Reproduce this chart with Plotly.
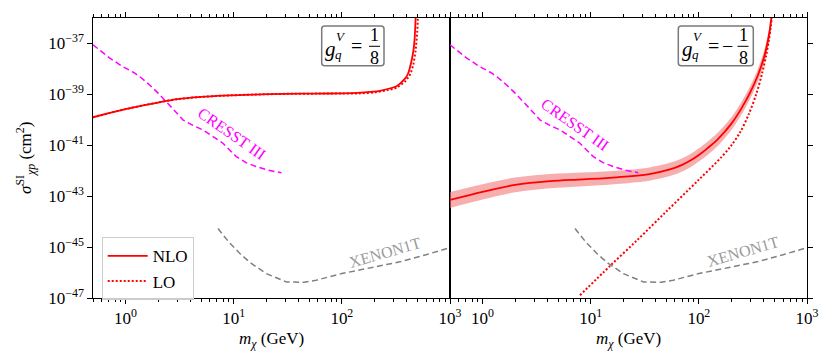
import numpy as np
import plotly.graph_objects as go
from plotly.subplots import make_subplots

# ------------------------------------------------------------
# Data (masses in GeV, cross sections as log10 of cm^2)
# ------------------------------------------------------------
mass_nlo_left = [0.5, 0.7, 1.0, 1.5, 2.0, 3.0, 5.0, 8.0, 15, 30, 60, 100, 150,
                 225, 320, 380, 410, 440, 460, 472, 482]
exp_nlo_left = [-39.90, -39.74, -39.58, -39.42, -39.32, -39.19, -39.10, -39.05,
                -39.01, -38.98, -38.97, -38.96, -38.93, -38.86, -38.68, -38.40,
                -38.18, -37.70, -37.25, -36.75, -35.90]

mass_lo_left = [0.5, 0.7, 1.0, 1.5, 2.0, 3.0, 5.0, 8.0, 15, 30, 60, 100, 150,
                200, 260, 320, 383, 430, 457, 480, 498, 505]
exp_lo_left = [-39.90, -39.74, -39.58, -39.42, -39.32, -39.19, -39.10, -39.05,
               -39.01, -38.98, -38.97, -38.97, -38.96, -38.92, -38.84, -38.74,
               -38.50, -38.20, -37.84, -37.30, -36.53, -35.90]

mass_nlo_right = [0.5, 1.0, 2.0, 4.2, 8.5, 17.4, 35, 54, 70, 85, 100, 120, 150,
                  200, 250, 300, 350, 400, 430, 450, 465, 475]
exp_nlo_right = [-43.15, -42.83, -42.56, -42.41, -42.34, -42.26, -42.13, -41.95,
                 -41.77, -41.58, -41.38, -41.12, -40.76, -40.15, -39.52, -38.90,
                 -38.27, -37.55, -37.00, -36.55, -36.10, -35.80]
band_nlo_right = [0.31, 0.30, 0.29, 0.28, 0.27, 0.26, 0.26, 0.26, 0.26, 0.26,
                  0.26, 0.26, 0.26, 0.25, 0.25, 0.25, 0.25, 0.25, 0.25, 0.25,
                  0.25, 0.25]

mass_lo_right = [7.96, 15, 27, 50, 99, 163, 200, 240, 288, 340, 383, 420, 445,
                 462, 475]
exp_lo_right = [-46.89, -45.75, -44.72, -43.60, -42.37, -41.45, -41.00, -40.50,
                -39.80, -38.98, -38.20, -37.45, -36.85, -36.35, -35.90]

mass_cresst = [0.5, 0.7, 0.94, 1.2, 1.35, 1.5, 1.67, 2.0, 2.38, 2.9, 3.39, 4.2,
               5.2, 6.4, 7.95, 10.6, 13, 16.2, 21, 27.6]
exp_cresst = [-37.05, -37.55, -37.91, -38.15, -38.30, -38.45, -38.63, -38.95,
              -39.28, -39.68, -40.00, -40.22, -40.40, -40.65, -40.92, -41.45,
              -41.68, -41.84, -41.98, -42.08]

mass_xenon = [7.16, 9, 11.4, 14.1, 20, 30.7, 45, 58, 100, 200, 344, 600, 1000]
exp_xenon = [-44.27, -44.80, -45.25, -45.60, -46.04, -46.37, -46.38, -46.30,
             -46.04, -45.78, -45.58, -45.30, -45.02]

x_ticks = [1, 10, 100, 1000]
x_ticktext = ["10<sup>0</sup>", "10<sup>1</sup>", "10<sup>2</sup>", "10<sup>3</sup>"]
y_exps = [-47, -45, -43, -41, -39, -37]
y_ticktext = ["10<sup>\u2212%d</sup>" % abs(e) for e in y_exps]

# ------------------------------------------------------------
# Figure geometry helpers
# (page body has an 8px margin, so the figure sits at (8, 8))
# ------------------------------------------------------------
OFF = 8
W, H = 815, 345
L, R, T, B = 85, 16, 10, 55
SERIF = "Liberation Serif, Times New Roman, serif"


def px(x):
    return (x - OFF - L) / (W - L - R)


def py(y):
    return (OFF + H - B - y) / (H - T - B)


def sig(exps):
    return [10.0 ** e for e in exps]


def rounded_box(x0, y0, x1, y1, r=3):
    pts = [
        ("M", x0 + r, y0), ("L", x1 - r, y0), ("Q", x1, y0, x1, y0 + r),
        ("L", x1, y1 - r), ("Q", x1, y1, x1 - r, y1), ("L", x0 + r, y1),
        ("Q", x0, y1, x0, y1 - r), ("L", x0, y0 + r), ("Q", x0, y0, x0 + r, y0),
    ]
    out = []
    for p in pts:
        cmd, coords = p[0], p[1:]
        vals = []
        for i in range(0, len(coords), 2):
            vals.append("%.5f,%.5f" % (px(coords[i]), py(coords[i + 1])))
        out.append(cmd + " " + " ".join(vals))
    return " ".join(out) + " Z"


fig = make_subplots(rows=1, cols=2, horizontal_spacing=0)

# ------------------------------------------------------------
# Left panel
# ------------------------------------------------------------
fig.add_trace(go.Scatter(x=mass_cresst, y=sig(exp_cresst), mode="lines",
                         line=dict(color="#ff00ff", width=1.5, dash="6px,3.5px"),
                         showlegend=False), row=1, col=1)
fig.add_trace(go.Scatter(x=mass_xenon, y=sig(exp_xenon), mode="lines",
                         line=dict(color="#808080", width=1.5, dash="6px,3.5px"),
                         showlegend=False), row=1, col=1)
fig.add_trace(go.Scatter(x=mass_nlo_left, y=sig(exp_nlo_left), mode="lines",
                         line=dict(color="#ff0000", width=1.8, shape="spline", smoothing=0.5),
                         name="NLO"), row=1, col=1)
fig.add_trace(go.Scatter(x=mass_lo_left, y=sig(exp_lo_left), mode="lines",
                         line=dict(color="#ff0000", width=2, dash="2px,2px",
                                   shape="spline", smoothing=0.5),
                         name="LO"), row=1, col=1)

# ------------------------------------------------------------
# Right panel
# ------------------------------------------------------------
band_hi = [e + d for e, d in zip(exp_nlo_right, band_nlo_right)]
band_lo = [e - d for e, d in zip(exp_nlo_right, band_nlo_right)]
fig.add_trace(go.Scatter(x=mass_nlo_right, y=sig(band_hi), mode="lines",
                         line=dict(width=0, shape="spline", smoothing=0.9),
                         showlegend=False, hoverinfo="skip"), row=1, col=2)
fig.add_trace(go.Scatter(x=mass_nlo_right, y=sig(band_lo), mode="lines",
                         line=dict(width=0, shape="spline", smoothing=0.9),
                         fill="tonexty", fillcolor="rgba(240,120,120,0.6)",
                         showlegend=False, hoverinfo="skip"), row=1, col=2)
fig.add_trace(go.Scatter(x=mass_cresst, y=sig(exp_cresst), mode="lines",
                         line=dict(color="#ff00ff", width=1.5, dash="6px,3.5px"),
                         showlegend=False), row=1, col=2)
fig.add_trace(go.Scatter(x=mass_xenon, y=sig(exp_xenon), mode="lines",
                         line=dict(color="#808080", width=1.5, dash="6px,3.5px"),
                         showlegend=False), row=1, col=2)
fig.add_trace(go.Scatter(x=mass_nlo_right, y=sig(exp_nlo_right), mode="lines",
                         line=dict(color="#ff0000", width=1.8, shape="spline", smoothing=0.9),
                         showlegend=False), row=1, col=2)
fig.add_trace(go.Scatter(x=mass_lo_right, y=sig(exp_lo_right), mode="lines",
                         line=dict(color="#ff0000", width=2, dash="2px,2px",
                                   shape="spline", smoothing=0.9),
                         showlegend=False), row=1, col=2)

# ------------------------------------------------------------
# Axes
# ------------------------------------------------------------
minor_vals = [m * 10.0 ** k for k in range(-1, 3) for m in range(2, 10)]
xaxis_style = dict(
    type="log", range=[np.log10(0.5), 3], automargin=False,
    tickvals=x_ticks, ticktext=x_ticktext,
    ticks="outside", ticklen=4.5, tickwidth=1.2, tickcolor="black",
    showline=True, linecolor="black", linewidth=1.3, mirror="allticks",
    showgrid=False, zeroline=False,
    minor=dict(tickvals=minor_vals, ticks="outside", ticklen=2.5,
               tickwidth=1, tickcolor="black", showgrid=False),
    tickfont=dict(family=SERIF, size=17, color="black"),
)
fig.update_xaxes(**xaxis_style)

yaxis_style = dict(
    type="log", range=[-47, -36], automargin=False,
    tickvals=sig(y_exps), ticktext=y_ticktext,
    ticks="outside", ticklen=4.5, tickwidth=1.2, tickcolor="black",
    showline=True, linecolor="black", linewidth=1.3, mirror=True,
    showgrid=False, zeroline=False,
    tickfont=dict(family=SERIF, size=17, color="black"),
)
fig.update_yaxes(**yaxis_style, row=1, col=1)
fig.update_yaxes(**yaxis_style, row=1, col=2)
fig.update_layout(yaxis2=dict(side="right", showticklabels=False))

# ------------------------------------------------------------
# Text and boxes
# ------------------------------------------------------------
annotations = []
shapes = []


def text(x, y, s, size=17, color="black", angle=0, xref="paper", yref="paper"):
    annotations.append(dict(x=x, y=y, xref=xref, yref=yref, text=s,
                            showarrow=False, textangle=angle,
                            xanchor="center", yanchor="middle",
                            font=dict(family=SERIF, size=size, color=color)))


# axis titles
text(px(271.5), py(340), "<i>m</i><sub><i>\u03c7</i></sub> (GeV)", size=17)
text(px(628.5), py(340), "<i>m</i><sub><i>\u03c7</i></sub> (GeV)", size=17)
text(px(25), py(158), "<i>\u03c3</i><sup>SI</sup><sub><i>\u03c7p</i></sub> (cm<sup>2</sup>)",
     size=17, angle=-90)

# curve labels
text(np.log10(9.6), -40.52, "CRESST III", size=16, color="#ff00ff", angle=35,
     xref="x", yref="y")
text(np.log10(7.16), -40.17, "CRESST III", size=16, color="#ff00ff", angle=35,
     xref="x2", yref="y2")
text(np.log10(250), -45.2, "XENON1T", size=16, color="#9a9a9a", angle=-16,
     xref="x", yref="y")
text(np.log10(255), -45.16, "XENON1T", size=16, color="#9a9a9a", angle=-16,
     xref="x2", yref="y2")

# coupling boxes
for (bx0, bx1, gx, eqx, minus_x, fx, fl0, fl1) in [
    (321.7, 384.0, 330, 356.5, None, 374.3, 369, 380),
    (678.3, 753.3, 687, 713.5, 727.5, 743.0, 737.5, 748.5),
]:
    shapes.append(dict(type="path", xref="paper", yref="paper",
                       path=rounded_box(bx0, 26, bx1, 65.7),
                       line=dict(color="#7a7a7a", width=1.5),
                       fillcolor="rgba(255,255,255,0.85)"))
    text(px(gx), py(49), "<i>g</i>", size=21)
    text(px(gx + 10.5), py(37), "<i>V</i>", size=13)
    text(px(gx + 8.5), py(54), "<i>q</i>", size=13)
    text(px(eqx), py(46.5), "=", size=20)
    if minus_x is not None:
        text(px(minus_x), py(46.5), "\u2212", size=20)
    text(px(fx), py(35), "1", size=18)
    text(px(fx), py(57.5), "8", size=18)
    shapes.append(dict(type="line", xref="paper", yref="paper",
                       x0=px(fl0), x1=px(fl1), y0=py(46.3), y1=py(46.3),
                       line=dict(color="black", width=1)))

fig.update_layout(
    width=W, height=H,
    margin=dict(l=L, r=R, t=T, b=B),
    paper_bgcolor="white", plot_bgcolor="white",
    annotations=annotations, shapes=shapes,
    legend=dict(x=px(101.7), y=py(237.3), xanchor="left", yanchor="top",
                bgcolor="rgba(255,255,255,0.8)", bordercolor="#cccccc",
                borderwidth=1, font=dict(family=SERIF, size=17, color="black"),
                itemwidth=40, tracegroupgap=0, traceorder="normal"),
    showlegend=True,
)

fig.write_html("out.html")
